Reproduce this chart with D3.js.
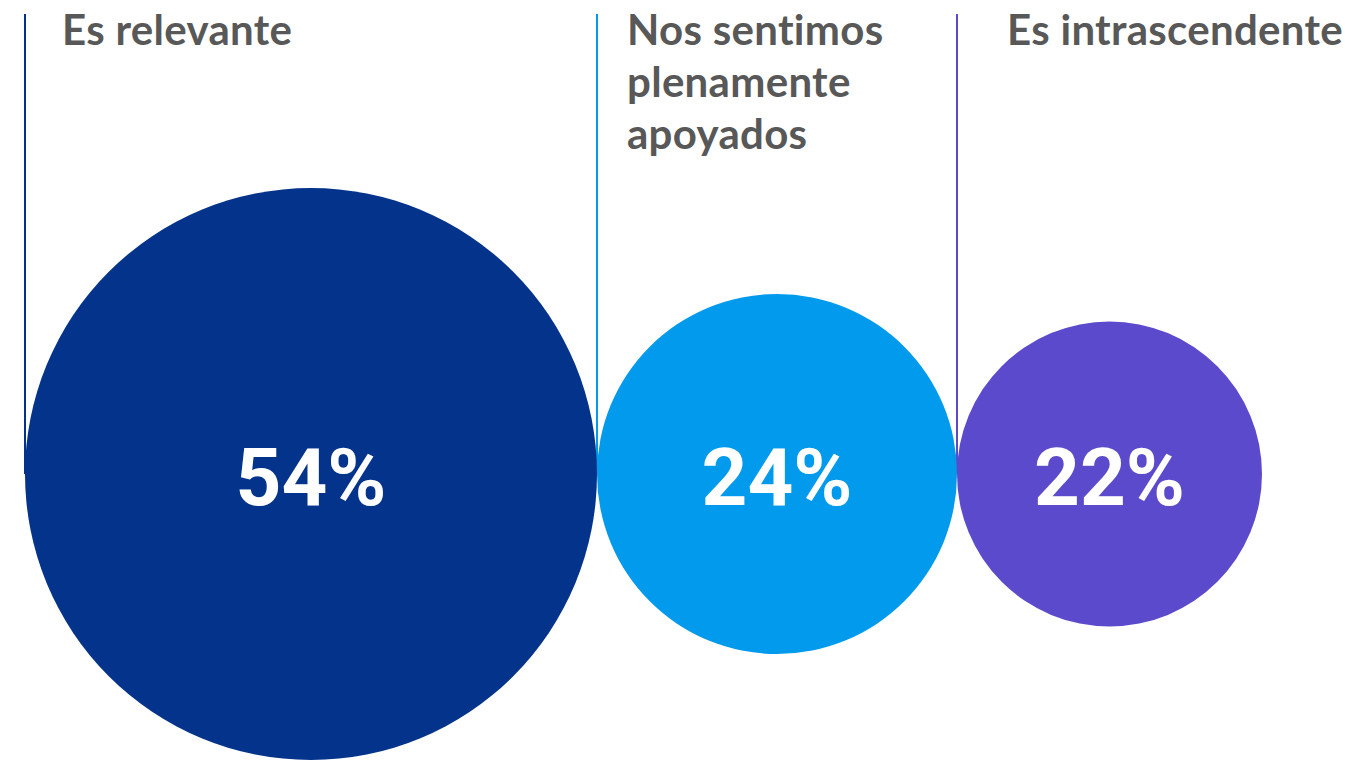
<!DOCTYPE html>
<html>
<head>
<meta charset="utf-8">
<script src="https://cdn.jsdelivr.net/npm/d3@7"></script>
<style>
  body { margin: 0; background: #fff; }
  .cat-label { font-family: Lato, sans-serif; font-weight: 700; fill: #585858; letter-spacing: 0.3px; }
  .pct-label { font-family: Roboto, sans-serif; font-weight: 700; fill: #fff; }
</style>
</head>
<body>
<div id="chart"></div>
<script>
// chart data
const categories = ["Es relevante", "Nos sentimos plenamente apoyados", "Es intrascendente"];
const labelLines = [["Es relevante"], ["Nos sentimos", "plenamente", "apoyados"], ["Es intrascendente"]];
const values = [54, 24, 22];
const colors = ["#03338a", "#019aec", "#5b4bcc"];

const width = 1345,
  height = 761,
  margin = ({top: 14, left: 25});

const cy = 474; // shared centre line of the bubbles
const labelDx = [37, 30, 50];

const svg = d3.select("#chart")
  .append("svg")
  .attr("width", width)
  .attr("height", height)
  .attr("viewBox", [0, 0, width, height]);

// bubble size
let r = d3.scaleLinear()
  .domain([22, 24, 54])
  .range([152.5, 180, 286]);

// pack bubbles side by side, touching
let data = [];
let x0 = margin.left;
values.forEach((v, i) => {
  let rad = r(v);
  data.push({name: categories[i], lines: labelLines[i], value: v, color: colors[i],
             left: x0, cx: x0 + rad, r: rad, dx: labelDx[i]});
  x0 += 2 * rad;
});

// vertical marker lines
svg.selectAll("line.marker")
  .data(data)
  .join("line")
  .attr("class", "marker")
  .attr("x1", d => d.left)
  .attr("x2", d => d.left)
  .attr("y1", margin.top)
  .attr("y2", cy)
  .attr("stroke", d => d.color)
  .attr("stroke-width", 2);

svg.selectAll("circle")
  .data(data)
  .join("circle")
  .attr("cx", d => d.cx)
  .attr("cy", cy)
  .attr("r", d => d.r)
  .attr("fill", d => d.color);

// category labels
let lab = svg.selectAll("text.cat-label")
  .data(data)
  .join("text")
  .attr("class", "cat-label")
  .attr("x", d => d.left + d.dx)
  .attr("y", 45)
  .style("font-size", "42px");

lab.selectAll("tspan")
  .data(d => d.lines.map(t => ({t, x: d.left + d.dx})))
  .join("tspan")
  .attr("x", d => d.x)
  .attr("dy", (d, i) => i === 0 ? 0 : 52)
  .text(d => d.t);

// percentages
svg.selectAll("text.pct-label")
  .data(data)
  .join("text")
  .attr("class", "pct-label")
  .attr("x", d => d.cx)
  .attr("y", cy + 31)
  .attr("text-anchor", "middle")
  .style("font-size", "80px")
  .text(d => d.value + "%");
</script>
</body>
</html>
